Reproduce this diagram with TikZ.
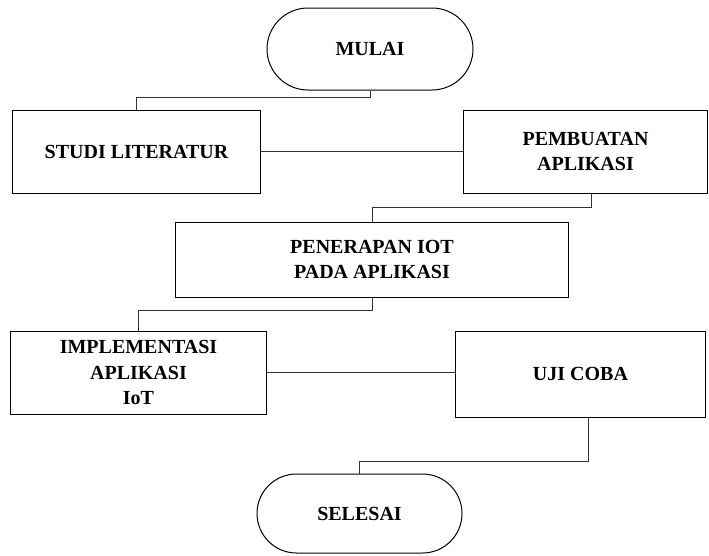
\documentclass[tikz,border=0pt]{standalone}
\usepackage{fontspec}
\setmainfont{Liberation Serif}
\usepackage{tikz}
\usetikzlibrary{shapes.misc,calc}

\begin{document}
\begin{tikzpicture}[x=0.6pt, y=-0.6pt,
    terminal/.style={rounded rectangle, draw=black, line width=0.6pt,
        font=\fontsize{12}{15.5}\selectfont\bfseries, align=center, inner sep=0pt},
    process/.style={rectangle, draw=black, line width=0.6pt,
        font=\fontsize{12}{15.5}\selectfont\bfseries, align=center, inner sep=0pt},
    link/.style={draw=black!80, line width=0.6pt}
]
    \useasboundingbox (0,0) rectangle (709,556);

    \node[terminal, minimum width=123.6pt, minimum height=49.2pt] (mulai) at (370,49) {MULAI};
    \node[process, minimum width=149.4pt, minimum height=49.8pt] (studi) at (136.5,151.5) {STUDI LITERATUR};
    \node[process, minimum width=147pt, minimum height=49.8pt] (buat) at (585.5,151.5) {PEMBUATAN\\APLIKASI};
    \node[process, minimum width=236.4pt, minimum height=45pt] (iot) at (372,259.5) {PENERAPAN IOT\\PADA APLIKASI};
    \node[process, minimum width=154.2pt, minimum height=49.8pt] (impl) at (138.5,372.5) {IMPLEMENTASI\\APLIKASI\\IoT};
    \node[process, minimum width=150.6pt, minimum height=51.6pt] (uji) at (580.5,374) {UJI COBA};
    \node[terminal, minimum width=123pt, minimum height=47.4pt] (selesai) at (359.5,513.5) {SELESAI};

    \draw[link] (mulai.south) -- ++(0,7) -| (studi.north);
    \draw[link] (studi.east) -- (studi.east -| buat.west);
    \draw[link] ($(buat.south)+(5.5,0)$) -- ++(0,14) -| (iot.north);
    \draw[link] (iot.south) -- ++(0,13) -| (impl.north);
    \draw[link] (impl.east) -- (impl.east -| uji.west);
    \draw[link] ($(uji.south)+(7.5,0)$) -- ++(0,44) -| (selesai.north);
\end{tikzpicture}
\end{document}
